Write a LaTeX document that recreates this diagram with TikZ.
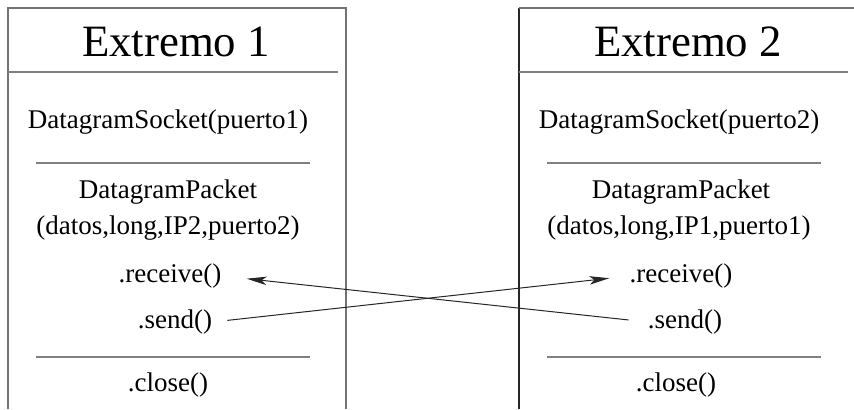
\documentclass[tikz,border=0pt]{standalone}
\usepackage{fontspec}
\setmainfont{Liberation Serif}
\usetikzlibrary{arrows.meta}
\begin{document}
\begin{tikzpicture}[x=0.5pt,y=-0.5pt,
  title/.style={inner sep=0pt, font=\fontsize{22.4pt}{26pt}\selectfont},
  body/.style={inner sep=0pt, font=\fontsize{13.5pt}{16pt}\selectfont},
  boxline/.style={draw=black!55, line width=0.75pt},
  edgeline/.style={draw=black!85, line width=0.75pt},
  rule/.style={draw=black!50, line width=0.7pt},
  msg/.style={draw=black!85, line width=0.5pt, -{Stealth[length=10pt,width=4.2pt,inset=2.5pt]}}]
\useasboundingbox (0,0) rectangle (854,409);
% left box
\draw[boxline] (8,409) -- (8,8) -- (346,8) -- (346,409);
\draw[rule] (8,72) -- (338,72);
\draw[rule] (36,163) -- (310,163);
\draw[rule] (36,357) -- (310,357);
% right box
\draw[edgeline] (519,409) -- (519,8);
\draw[boxline] (519,8) -- (854,8);
\draw[rule] (519,72) -- (848,72);
\draw[rule] (547,163) -- (821,163);
\draw[rule] (547,357) -- (821,357);
% left texts
\node[title] (t1) at (176,42) {Extremo 1};
\node[body] (ds1) at (168,122) {DatagramSocket(puerto1)};
\node[body] (dp1) at (168,192) {DatagramPacket};
\node[body] (ar1) at (168,228) {(datos,long,IP2,puerto2)};
\node[body] (rcv1) at (170,276) {.receive()};
\node[body] (snd1) at (175,322) {.send()};
\node[body] (cl1) at (168,385) {.close()};
% right texts
\node[title] (t2) at (688,42) {Extremo 2};
\node[body] (ds2) at (679,122) {DatagramSocket(puerto2)};
\node[body] (dp2) at (681,192) {DatagramPacket};
\node[body] (ar2) at (679,228) {(datos,long,IP1,puerto1)};
\node[body] (rcv2) at (681,276) {.receive()};
\node[body] (snd2) at (685,322) {.send()};
\node[body] (cl2) at (676,385) {.close()};
% messages
\draw[msg, shorten <=7.5pt, shorten >=10pt] (snd1.east) -- (rcv2.west);
\draw[msg, shorten <=9.5pt, shorten >=12.5pt] (snd2.west) -- (rcv1.east);
\end{tikzpicture}
\end{document}
